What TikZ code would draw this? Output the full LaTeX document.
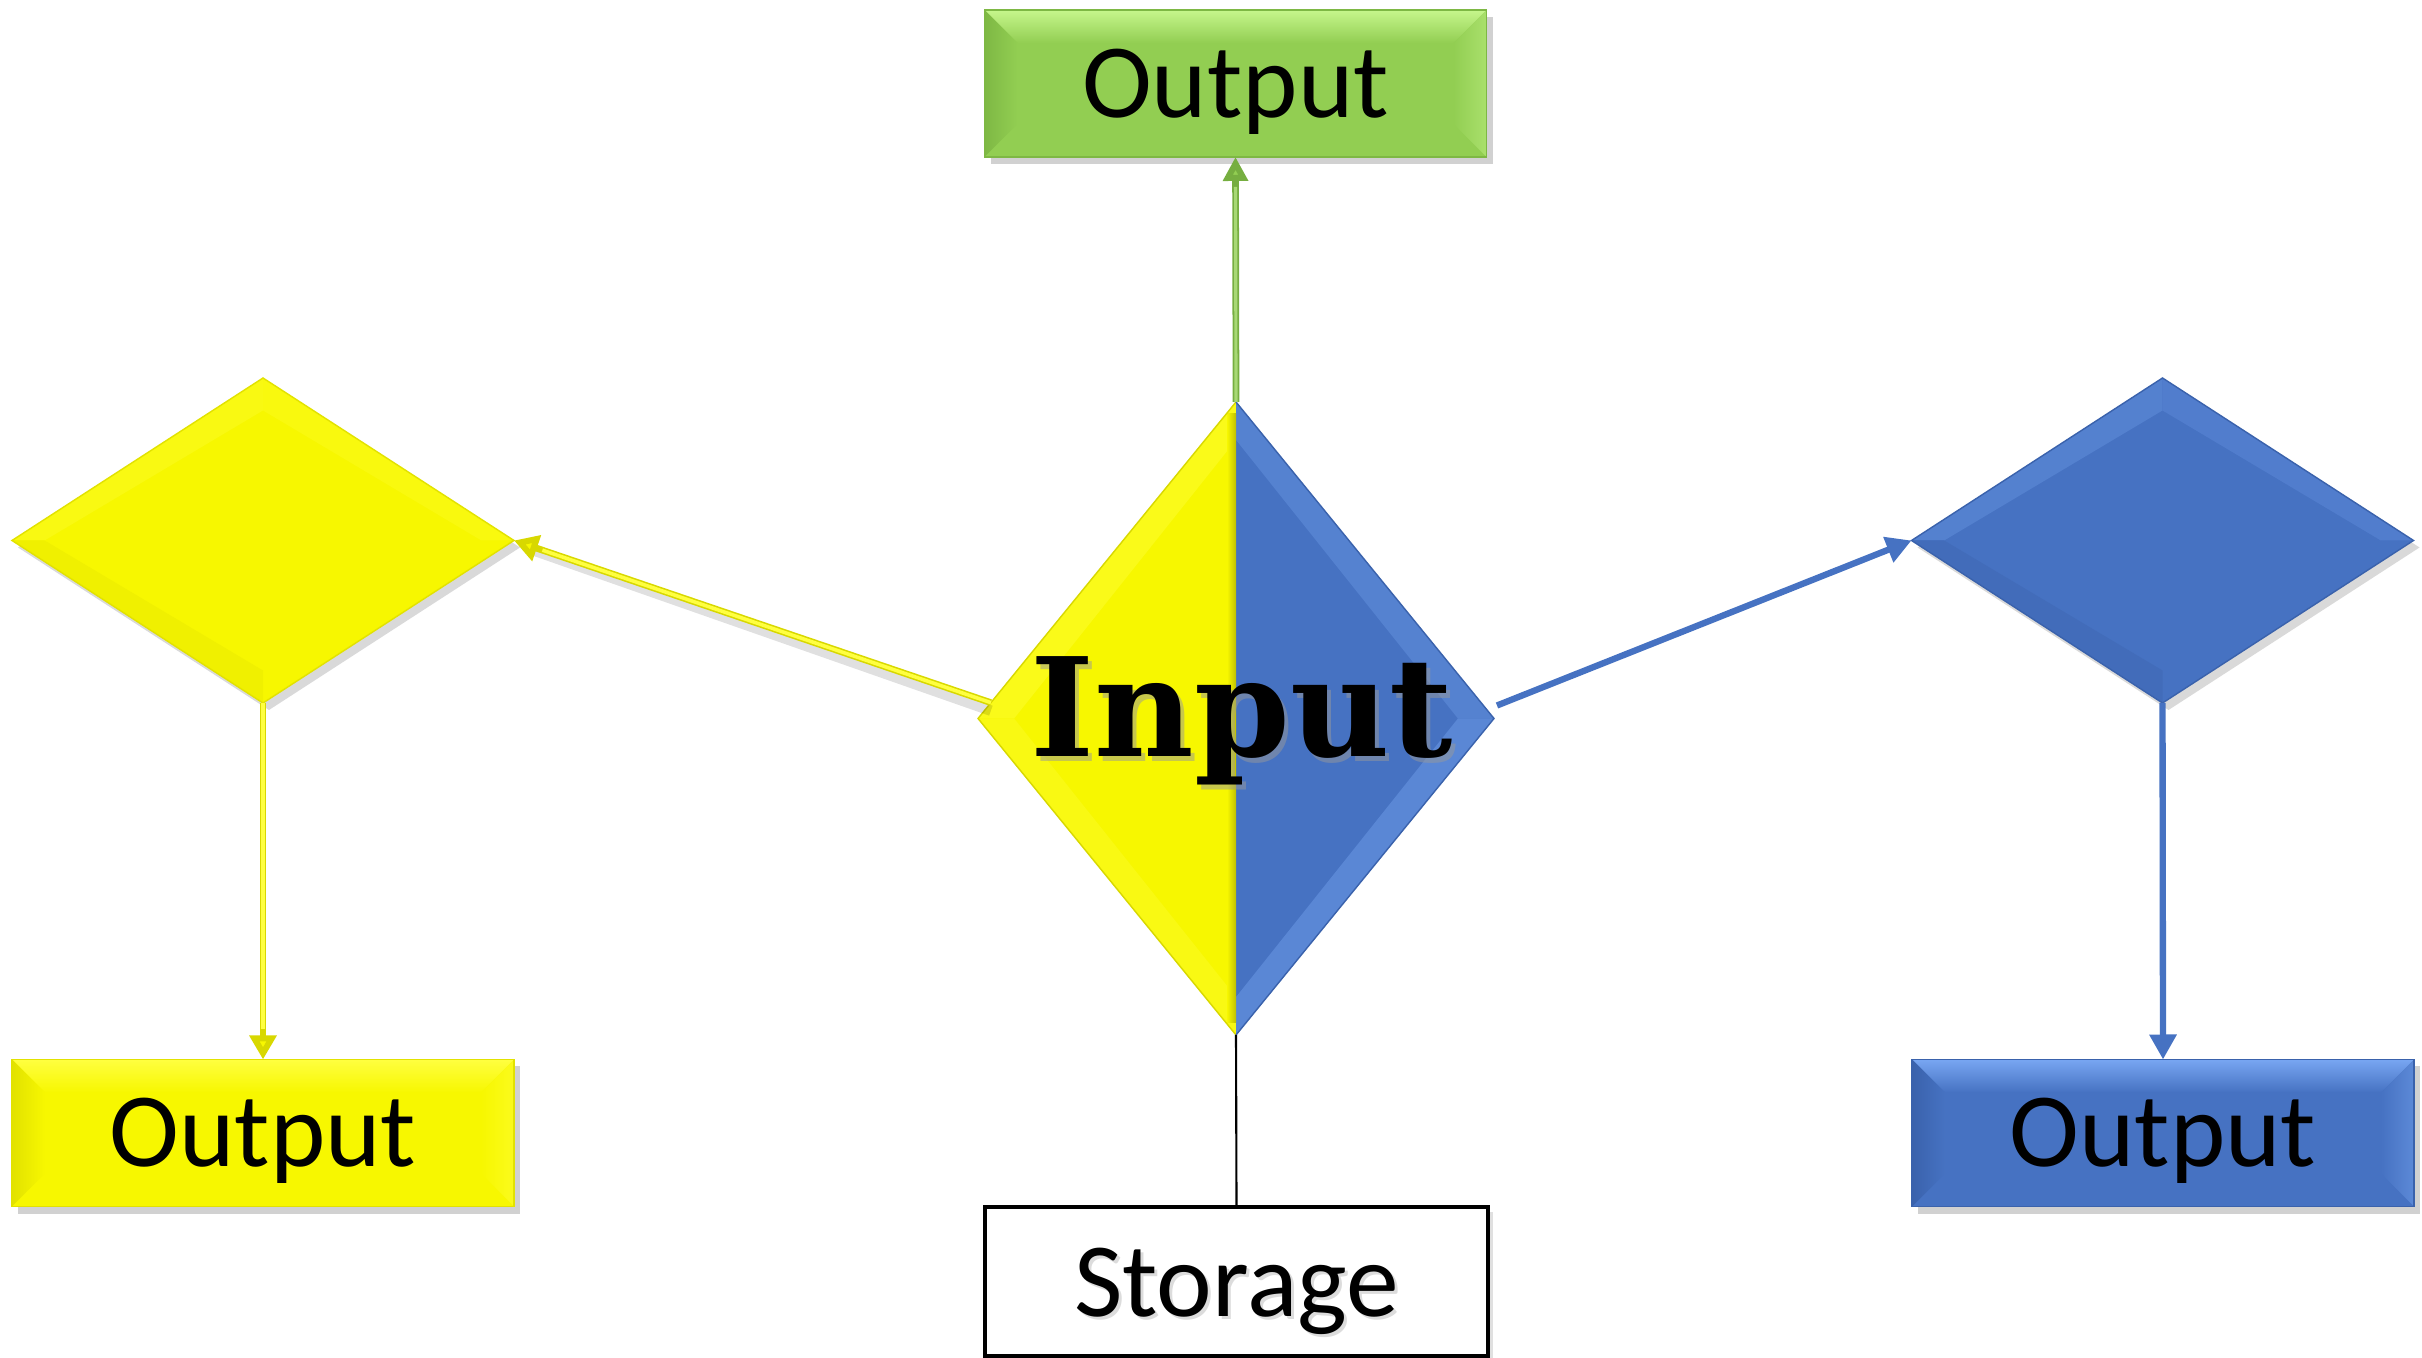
\documentclass[tikz,border=0pt]{standalone}
\usepackage{fontspec}
\setmainfont{Carlito}
\newfontfamily\inputfont{DejaVu Serif}
\usetikzlibrary{shapes.geometric,arrows.meta,calc}
\pgfdeclarelayer{bg}
\pgfsetlayers{bg,main}

\definecolor{yelbase}{HTML}{F7F700}
\definecolor{yellight}{HTML}{FFFF40}
\definecolor{yeldark}{HTML}{E2E200}
\definecolor{yeledge}{HTML}{D8D800}
\definecolor{blubase}{HTML}{4672C2}
\definecolor{blulight}{HTML}{78A6F2}
\definecolor{bludark}{HTML}{3A62AC}
\definecolor{grnbase}{HTML}{92CE52}
\definecolor{grnlight}{HTML}{C6F68C}
\definecolor{grndark}{HTML}{7EB844}
\definecolor{grnedge}{HTML}{76AE40}

\tikzset{
  outbox/.style={rectangle, minimum width=5.02cm, minimum height=1.47cm, inner sep=0pt, outer sep=0pt},
  sidedia/.style={diamond, minimum width=5.02cm, minimum height=3.25cm, inner sep=0pt, outer sep=0pt},
  centerdia/.style={diamond, minimum width=5.16cm, minimum height=6.33cm, inner sep=0pt, outer sep=0pt},
  boxtext/.style={anchor=base, font=\fontsize{30}{32}\selectfont, inner sep=0pt},
  yelarrow/.style={line width=1.9pt, yeledge, -{Triangle[width=0.26cm,length=0.24cm,fill=yelbase]}},
  yelcore/.style={line width=1.0pt, yellight},
  grnarrow/.style={line width=1.9pt, grnedge, -{Triangle[width=0.24cm,length=0.24cm,fill=grnbase]}},
  grncore/.style={line width=0.9pt, grnbase!80!white},
  bluarrow/.style={line width=1.8pt, blubase, -{Triangle[width=0.26cm,length=0.25cm]}},
  plainline/.style={line width=0.6pt, black},
}

\newcommand\bevelrect[4]{%
  \begin{pgfonlayer}{bg}
    \fill[black,opacity=.18] ($(#1.south west)+(.06,-.07)$) rectangle ($(#1.north east)+(.06,-.07)$);
    \fill[#2] (#1.south west) rectangle (#1.north east);
    \shade[top color=#3, bottom color=#2] (#1.north west) -- (#1.north east) -- ($(#1.north east)+(-.33,-.33)$) -- ($(#1.north west)+(.33,-.33)$) -- cycle;
    \shade[left color=#4, right color=#2] (#1.north west) -- ($(#1.north west)+(.33,-.33)$) -- ($(#1.south west)+(.33,.33)$) -- (#1.south west) -- cycle;
    \shade[right color=#3!45!#2, left color=#2] (#1.north east) -- ($(#1.north east)+(-.33,-.33)$) -- ($(#1.south east)+(-.33,.33)$) -- (#1.south east) -- cycle;
    \draw[#4, line width=.4pt] (#1.south west) rectangle (#1.north east);
  \end{pgfonlayer}}

\newcommand\beveldia[4]{%
  \begin{pgfonlayer}{bg}
    \fill[black,opacity=.15] ($(#1.west)+(.06,-.07)$) -- ($(#1.north)+(.06,-.07)$) -- ($(#1.east)+(.06,-.07)$) -- ($(#1.south)+(.06,-.07)$) -- cycle;
    \fill[#2] (#1.west) -- (#1.north) -- (#1.east) -- (#1.south) -- cycle;
    \fill[#3!28!#2] (#1.west) -- (#1.north) -- ($(#1.center)!.80!(#1.north)$) -- ($(#1.center)!.87!(#1.west)$) -- cycle;
    \fill[#3!22!#2] (#1.north) -- (#1.east) -- ($(#1.center)!.87!(#1.east)$) -- ($(#1.center)!.80!(#1.north)$) -- cycle;
    \fill[#4!35!#2] (#1.south) -- (#1.west) -- ($(#1.center)!.87!(#1.west)$) -- ($(#1.center)!.80!(#1.south)$) -- cycle;
    \draw[#4, line width=.4pt] (#1.west) -- (#1.north) -- (#1.east) -- (#1.south) -- cycle;
  \end{pgfonlayer}}

\begin{document}
\begin{tikzpicture}
\useasboundingbox (0,0) rectangle (24.22,-13.58);
\begin{pgfonlayer}{bg}
  \fill[white] (0,0) rectangle (24.22,-13.58);
\end{pgfonlayer}

% nodes
\node[outbox] (otop) at (12.355,-0.835) {};
\node[centerdia] (C) at (12.36,-7.185) {};
\node[sidedia] (DL) at (2.63,-5.405) {};
\node[sidedia] (DR) at (21.625,-5.405) {};
\node[outbox] (OL) at (2.63,-11.33) {};
\node[outbox] (OR) at (21.63,-11.33) {};
\node[rectangle, minimum width=5.03cm, minimum height=1.49cm, inner sep=0pt, outer sep=0pt, draw=black, line width=1pt, fill=white] (S) at (12.365,-12.815) {};

% fills
\bevelrect{otop}{grnbase}{grnlight}{grndark}
\bevelrect{OL}{yelbase}{yellight}{yeldark}
\bevelrect{OR}{blubase}{blulight}{bludark}
\beveldia{DL}{yelbase}{yellight}{yeldark}
\beveldia{DR}{blubase}{blulight}{bludark}
\begin{pgfonlayer}{bg}
  \fill[black,opacity=.12] ($(S.south west)+(.05,-.05)$) rectangle ($(S.north east)+(.05,-.05)$);
  % center diamond split
  \fill[yelbase] (C.north) -- (C.west) -- (C.south) -- cycle;
  \fill[blubase] (C.north) -- (C.east) -- (C.south) -- cycle;
  \fill[yellight!40!yelbase] (C.west) -- (C.north) -- ($(C.center)!.88!(C.north)$) -- ($(C.center)!.86!(C.west)$) -- cycle;
  \fill[yellight!30!yelbase] (C.south) -- (C.west) -- ($(C.center)!.86!(C.west)$) -- ($(C.center)!.88!(C.south)$) -- cycle;
  \fill[blulight!30!blubase] (C.north) -- (C.east) -- ($(C.center)!.86!(C.east)$) -- ($(C.center)!.88!(C.north)$) -- cycle;
  \fill[blulight!40!blubase] (C.east) -- (C.south) -- ($(C.center)!.88!(C.south)$) -- ($(C.center)!.86!(C.east)$) -- cycle;
  \shade[left color=yelbase, right color=yeldark!85!black] ($(C.north)+(-.09,-.12)$) rectangle ($(C.south)+(0,.12)$);
  \draw[yeledge, line width=.4pt] (C.north) -- (C.west) -- (C.south);
  \draw[bludark, line width=.4pt] (C.north) -- (C.east) -- (C.south);
\end{pgfonlayer}

% connectors
\coordinate (ystart) at ($(C.west)!0.05!(C.north)$);
\coordinate (bstart) at ($(C.east)+(0.03,0.13)$);
\draw[black,opacity=.12,line width=3pt] ($(ystart)+(0,-0.08)$) -- ($(DL.east)+(0.2,-0.1)$);
\draw[yelarrow] (ystart) -- (DL.east);
\draw[yelcore, shorten >=0.3cm] (ystart) -- (DL.east);
\draw[yelarrow] (DL.south) -- (OL.north);
\draw[yelcore, shorten >=0.3cm] (DL.south) -- (OL.north);
\draw[grnarrow] (C.north) -- (otop.south);
\draw[grncore, shorten >=0.3cm] (C.north) -- (otop.south);
\draw[bluarrow] (bstart) -- (DR.west);
\draw[bluarrow] (DR.south) -- (OR.north);
\draw[plainline] (C.south) -- (S.north);

% texts
\node[boxtext] (ttop) at ($(otop.center)+(0,-0.34)$) {Output};
\node[boxtext] (tol) at ($(OL.center)+(0,-0.34)$) {Output};
\node[boxtext] (tor) at ($(OR.center)+(0,-0.34)$) {Output};
\node[boxtext, text=black!30, opacity=.45] (tsshadow) at ($(S.center)+(0.03,-0.38)$) {Storage};
\node[boxtext] (ts) at ($(S.center)+(0,-0.35)$) {Storage};
\node[anchor=base, inner sep=0pt, font=\inputfont\bfseries\fontsize{39}{40}\selectfont, text=black!40, opacity=.5] (tinshadow) at ($(C.center)+(0.1,-0.43)$) {Input};
\node[anchor=base, inner sep=0pt, font=\inputfont\bfseries\fontsize{39}{40}\selectfont] (tin) at ($(C.center)+(0.06,-0.385)$) {Input};
\end{tikzpicture}
\end{document}
